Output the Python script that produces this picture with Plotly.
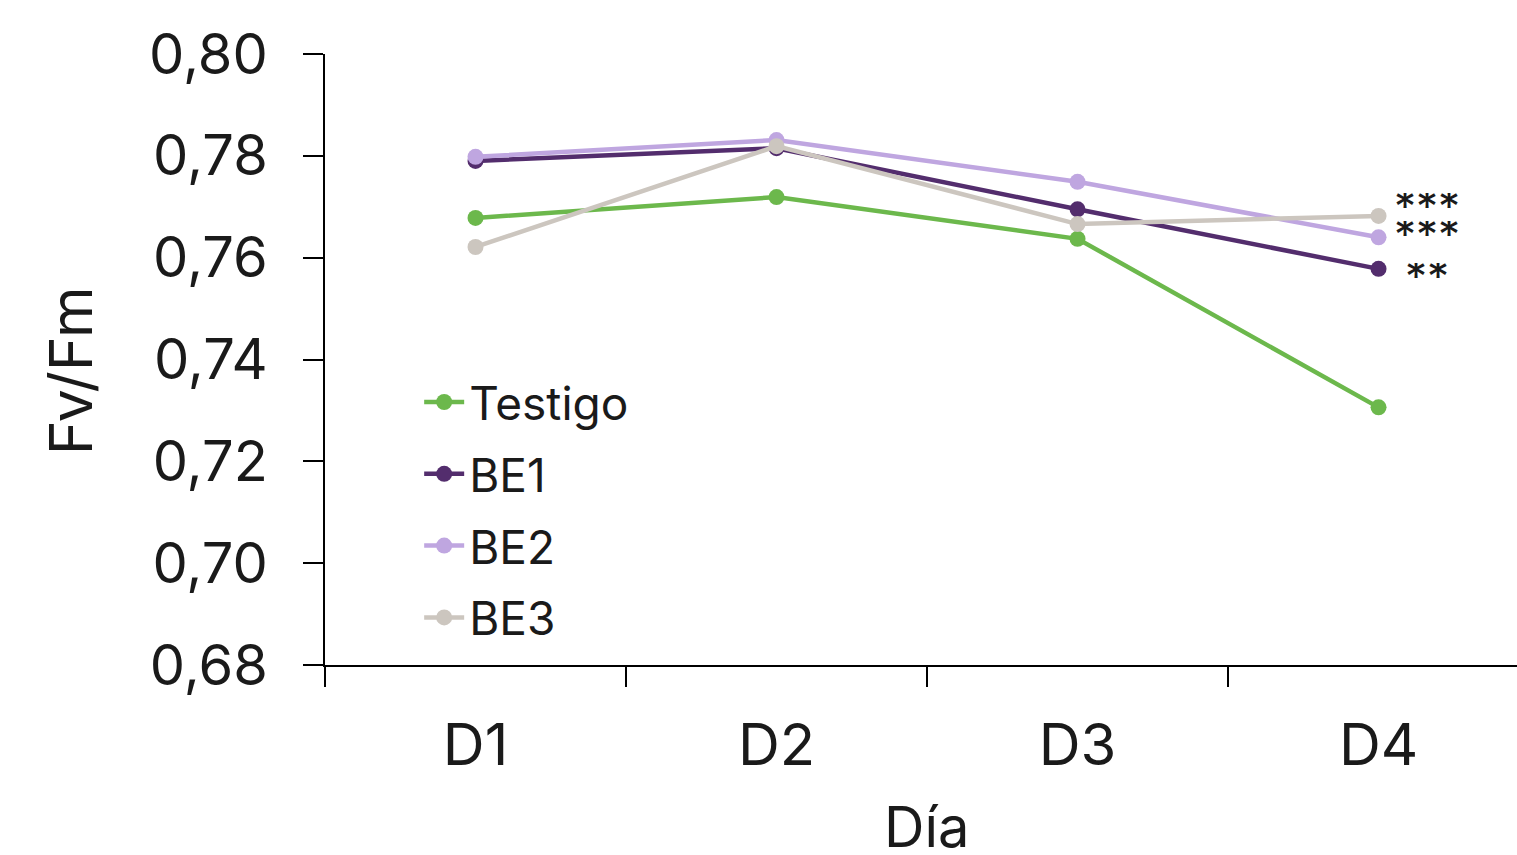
import plotly.graph_objects as go

dias = ["D1", "D2", "D3", "D4"]
testigo = [0.7678, 0.7719, 0.7637, 0.7306]
be1 = [0.7790, 0.7815, 0.7695, 0.7578]
be2 = [0.7798, 0.7831, 0.7749, 0.7640]
be3 = [0.7621, 0.7819, 0.7666, 0.7682]
series_names = ["Testigo", "BE1", "BE2", "BE3"]
colors = ["#6cb84c", "#532d6d", "#bfa6e0", "#ccc6bf"]
signif = ["***", "***", "**"]
signif_vals = [0.7682, 0.7640, 0.7578]
x_title = "Día"
y_title = "Fv/Fm"

FONT = "Inter, Open Sans, sans-serif"

fig = go.Figure()
for name, vals, col in zip(series_names, [testigo, be1, be2, be3], colors):
    fig.add_trace(go.Scatter(
        x=dias, y=vals, name=name, mode="lines+markers",
        line=dict(color=col, width=4.5),
        marker=dict(color=col, size=16),
        legendgroup=name,
    ))

shifts = [(48, 10), (48, 3), (48, -7)]
for s, v, (dx, dy) in zip(signif, signif_vals, shifts):
    fig.add_annotation(x="D4", y=v, text=s, showarrow=False,
                       xshift=dx, yshift=dy, height=26,
                       font=dict(family=FONT, size=44, color="#1a1a1a"))

# axis titles as annotations (positioned like the reference)
fig.add_annotation(xref="paper", yref="paper", x=0.505, y=-0.265,
                   text=x_title, showarrow=False, xanchor="center", yanchor="middle",
                   font=dict(family=FONT, size=56, color="#1a1a1a"))
fig.add_annotation(xref="paper", yref="paper", x=-0.2139, y=0.481,
                   text=y_title, showarrow=False, textangle=-90,
                   xanchor="center", yanchor="middle",
                   font=dict(family=FONT, size=59, color="#1a1a1a"))

fig.update_layout(
    width=1517, height=855,
    margin=dict(l=325, r=0, t=54, b=190),
    plot_bgcolor="white", paper_bgcolor="white",
    separators=",.",
    font=dict(family=FONT, color="#1a1a1a"),
    legend=dict(x=0.079, y=0.49, xanchor="left", yanchor="top",
                font=dict(size=46, family=FONT), bgcolor="rgba(0,0,0,0)",
                tracegroupgap=9, itemwidth=40),
    showlegend=True,
)
fig.update_xaxes(
    type="category", range=[-0.5, 3.46], automargin=False,
    tickson="boundaries", ticks="outside", ticklen=20, tickwidth=2, tickcolor="black",
    showline=True, linecolor="black", linewidth=2, showgrid=False,
    tickfont=dict(size=58, family=FONT), ticklabelstandoff=28,
)
fig.update_yaxes(
    range=[0.68, 0.80], dtick=0.02, tickformat=".2f", automargin=False,
    ticks="outside", ticklen=20, tickwidth=2, tickcolor="black",
    showline=True, linecolor="black", linewidth=2, showgrid=False, zeroline=False,
    tickfont=dict(size=56, family=FONT), ticklabelstandoff=24,
)
fig.write_html(
    "out.html",
    config={"displayModeBar": False},
    post_script="document.body.style.margin='0';document.body.style.overflow='hidden';",
)
